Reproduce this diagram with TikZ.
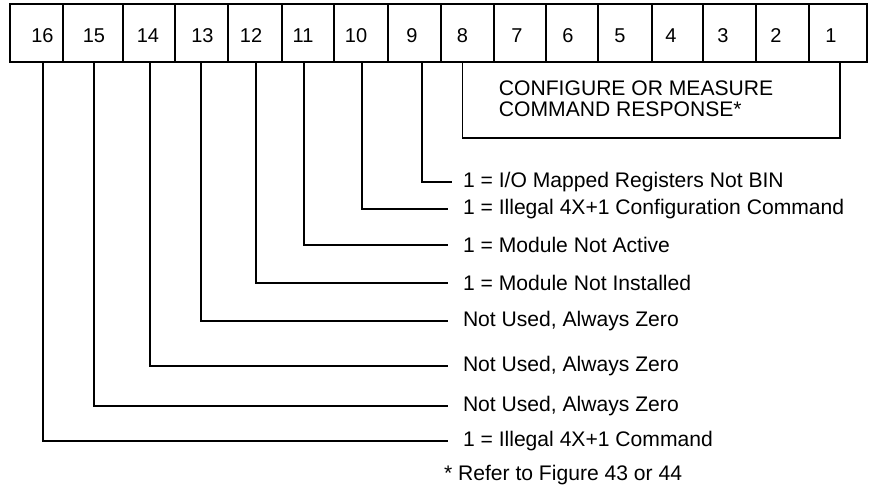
\documentclass[tikz,border=0pt]{standalone}
\usepackage{fontspec}
\setmainfont{Liberation Sans}
\begin{document}
\begin{tikzpicture}[x=1pt,y=-1pt,line width=1.9pt,
  cell/.style={draw,inner sep=0pt,outer sep=0pt,minimum height=58pt},
  digit/.style={inner sep=0pt,outer sep=0pt,font=\fontsize{20}{20}\selectfont},
  lbl/.style={anchor=west,inner sep=0pt,outer sep=0pt,font=\fontsize{21.1}{21}\selectfont},
  wire/.style={line width=1.9pt}]
\useasboundingbox (0,0) rectangle (869,487);
\foreach \l/\r/\n/\dx in {10/63/16/42.5,63/123/15/94,123/175/14/148,175/228/13/202.5,228/282/12/251,282/334/11/303,334/388/10/356,388/441/9/412,441/494/8/462.5,494/546/7/517,546/598/6/568,598/652/5/620,652/703/4/671,703/756/3/723,756/809/2/776,809/867/1/831}{
  \pgfmathsetmacro\w{\r-\l}
  \pgfmathsetmacro\cx{(\l+\r)/2}
  \node[cell,minimum width=\w pt] (c\n) at (\cx,33) {};
  \node[digit] (d\n) at (\dx,35.5) {\n};
}
% bracket for bits 8..1
\draw[wire] ([xshift=-5pt]c8.south) -- ++(0,76) -| ([xshift=2pt]c1.south);
\node[anchor=north west,align=left,inner sep=0pt,font=\fontsize{21.1}{21}\selectfont] (cfg) at (498,80) {CONFIGURE OR MEASURE\\COMMAND RESPONSE*};
% labels
\node[lbl] (l9)  at (463,182) {1 = I/O Mapped Registers Not BIN};
\node[lbl] (l10) at (463,209) {1 = Illegal 4X+1 Configuration Command};
\node[lbl] (l11) at (463,245) {1 = Module Not Active};
\node[lbl] (l12) at (463,283) {1 = Module Not Installed};
\node[lbl] (l13) at (463,321) {Not Used, Always Zero};
\node[lbl] (l14) at (463,366) {Not Used, Always Zero};
\node[lbl] (l15) at (463,406) {Not Used, Always Zero};
\node[lbl] (l16) at (463,441) {1 = Illegal 4X+1 Command};
\node[lbl] (note) at (444,475) {* Refer to Figure 43 or 44};
% connectors
\draw[wire] ([xshift=7.5pt]c9.south) |- ([xshift=-11pt]l9.west);
\draw[wire] ([xshift=1pt]c10.south) |- ([xshift=-15pt]l10.west);
\draw[wire] ([xshift=-4pt]c11.south) |- ([xshift=-15pt]l11.west);
\draw[wire] ([xshift=1pt]c12.south) |- ([xshift=-15pt]l12.west);
\draw[wire] ([xshift=-0.5pt]c13.south) |- ([xshift=-15pt]l13.west);
\draw[wire] ([xshift=1pt]c14.south) |- ([xshift=-15pt]l14.west);
\draw[wire] ([xshift=1pt]c15.south) |- ([xshift=-15pt]l15.west);
\draw[wire] ([xshift=6.5pt]c16.south) |- ([xshift=-15pt]l16.west);
\end{tikzpicture}
\end{document}
